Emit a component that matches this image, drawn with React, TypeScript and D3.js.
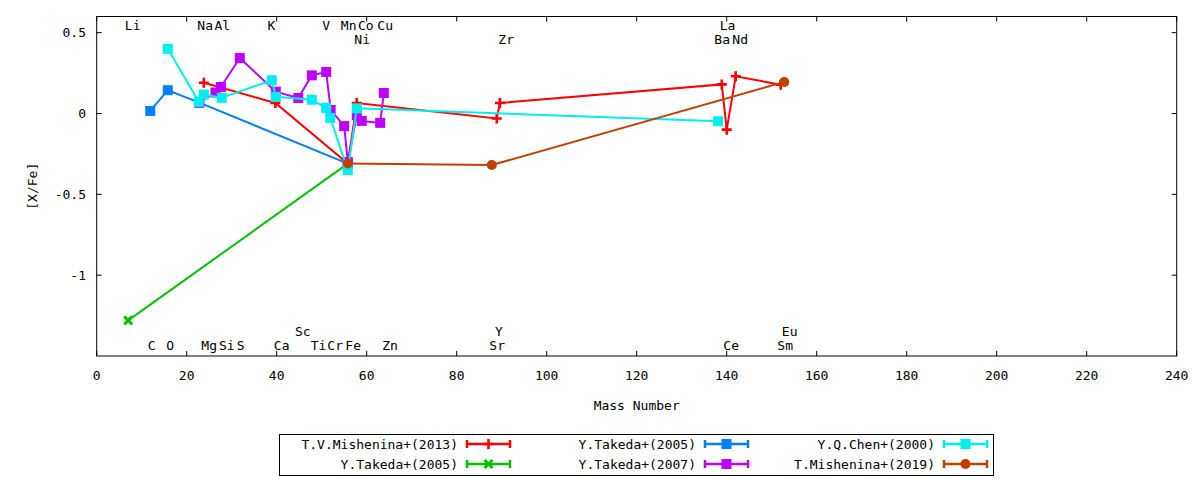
import { useEffect } from 'react';
import * as d3 from 'd3';

// [mass number, [X/Fe]]
type Pt = [number, number];

const mishenina2013: Pt[] = [
  [23.8, 0.19], [39.7, 0.065], [55.8, -0.31], [57.8, 0.065], [88.9, -0.031],
  [89.6, 0.065], [138.9, 0.18], [140, -0.1], [142, 0.23], [152, 0.178],
];
const takeda2005a: Pt[] = [[11.9, 0.016], [15.8, 0.144], [22.8, 0.067], [55.8, -0.31]];
const takeda2005b: Pt[] = [[7, -1.28], [55.8, -0.31]];
const takeda2007: Pt[] = [
  [22.8, 0.068], [26.4, 0.13], [27.6, 0.164], [31.8, 0.343], [39.8, 0.135],
  [44.8, 0.096], [47.8, 0.236], [51, 0.257], [52, 0.022], [55, -0.078],
  [55.8, -0.3], [57.8, -0.01], [58.9, -0.046], [63, -0.058], [63.8, 0.127],
];
const chen2000: Pt[] = [
  [15.8, 0.4], [22.7, 0.072], [23.8, 0.117], [27.8, 0.097], [38.9, 0.206],
  [39.8, 0.103], [47.8, 0.085], [51, 0.035], [51.9, -0.027], [55.8, -0.35],
  [57.8, 0.032], [138.1, -0.048],
];
const mishenina2019: Pt[] = [[55.8, -0.309], [87.8, -0.319], [152.8, 0.195]];

// element names along top and bottom of the frame, at their mass number
const topRow1: [string, number][] = [
  ['Li', 8], ['Na', 24.1], ['Al', 27.9], ['K', 38.8], ['V', 51], ['Mn', 56],
  ['Co', 59.8], ['Cu', 64.1], ['La', 140.2],
];
const topRow2: [string, number][] = [['Ni', 59], ['Zr', 91], ['Ba', 139], ['Nd', 143]];
const bottomRow1: [string, number][] = [['Sc', 45.8], ['Y', 89.4], ['Eu', 154]];
const bottomRow2: [string, number][] = [
  ['C', 12.2], ['O', 16.3], ['Mg', 25], ['Si', 28.9], ['S', 32], ['Ca', 41.1],
  ['Ti', 49.3], ['Cr', 53], ['Fe', 57], ['Zn', 65.2], ['Sr', 89], ['Ce', 141], ['Sm', 153],
];

const xTicks = d3.range(0, 241, 20);
const yTicks = [-1, -0.5, 0, 0.5];

type Marker = 'plus' | 'cross' | 'square' | 'circle';
const series: { name: string; color: string; marker: Marker; data: Pt[] }[] = [
  { name: 'T.V.Mishenina+(2013)', color: '#ff0000', marker: 'plus', data: mishenina2013 },
  { name: 'Y.Takeda+(2005)', color: '#00c000', marker: 'cross', data: takeda2005b },
  { name: 'Y.Takeda+(2005)', color: '#0080ff', marker: 'square', data: takeda2005a },
  { name: 'Y.Takeda+(2007)', color: '#c000ff', marker: 'square', data: takeda2007 },
  { name: 'Y.Q.Chen+(2000)', color: '#00eeee', marker: 'square', data: chen2000 },
  { name: 'T.Mishenina+(2019)', color: '#c04000', marker: 'circle', data: mishenina2019 },
];

const W = 1200;
const H = 480;
const L = 96.7, R = 1176.7, T = 16.5, B = 356;
const font = "'DejaVu Sans Mono', monospace";

const x = d3.scaleLinear().domain([0, 240]).range([L, R]);
const y = d3.scaleLinear().domain([-1.5, 0.6]).range([B, T]);

function Mark({ kind, cx, cy, color }: { kind: Marker; cx: number; cy: number; color: string }) {
  const s = 5;
  if (kind === 'square')
    return <rect x={cx - s} y={cy - s} width={2 * s} height={2 * s} fill={color} />;
  if (kind === 'circle') return <circle cx={cx} cy={cy} r={s} fill={color} />;
  if (kind === 'plus')
    return (
      <path d={`M${cx - s},${cy}H${cx + s}M${cx},${cy - s}V${cy + s}`} stroke={color} strokeWidth={2.6} />
    );
  return (
    <path
      d={`M${cx - 4},${cy - 4}L${cx + 4},${cy + 4}M${cx - 4},${cy + 4}L${cx + 4},${cy - 4}`}
      stroke={color}
      strokeWidth={3}
    />
  );
}

export default function App() {
  useEffect(() => {
    document.body.style.margin = '0';
  }, []);

  const line = d3.line<Pt>().x(d => x(d[0])).y(d => y(d[1]));

  // legend: 3 columns x 2 rows, filled column by column
  const colEnds = [458, 696, 935];
  const rowY = [444, 464];

  const labelRow = (items: [string, number][], yy: number) =>
    items.map(([n, m]) => (
      <text key={n + yy} x={x(m)} y={yy} textAnchor="middle" dominantBaseline="central">
        {n}
      </text>
    ));

  return (
    <svg width={W} height={H} style={{ display: 'block', background: '#fff' }} fontFamily={font} fontSize={13}>
      <g clipPath="url(#plot)">
        <clipPath id="plot">
          <rect x={L} y={T} width={R - L} height={B - T} />
        </clipPath>
        {series.map((s, i) => (
          <g key={i}>
            <path d={line(s.data) ?? ''} fill="none" stroke={s.color} strokeWidth={2} />
            {s.data.map((d, j) => (
              <Mark key={j} kind={s.marker} cx={x(d[0])} cy={y(d[1])} color={s.color} />
            ))}
          </g>
        ))}
      </g>

      <g fill="#000">
        {labelRow(topRow1, 25)}
        {labelRow(topRow2, 39)}
        {labelRow(bottomRow1, 331)}
        {labelRow(bottomRow2, 345)}
      </g>

      <rect x={L} y={T} width={R - L} height={B - T} fill="none" stroke="#000" strokeWidth={1} />
      {xTicks.map(t => (
        <g key={'x' + t}>
          <line x1={x(t)} x2={x(t)} y1={B} y2={B - 5} stroke="#000" />
          <line x1={x(t)} x2={x(t)} y1={T} y2={T + 5} stroke="#000" />
          <text x={x(t)} y={375} textAnchor="middle" dominantBaseline="central">
            {t}
          </text>
        </g>
      ))}
      {yTicks.map(t => (
        <g key={'y' + t}>
          <line x1={L} x2={L + 5} y1={y(t)} y2={y(t)} stroke="#000" />
          <line x1={R} x2={R - 5} y1={y(t)} y2={y(t)} stroke="#000" />
          <text x={86} y={y(t)} textAnchor="end" dominantBaseline="central">
            {t}
          </text>
        </g>
      ))}

      <text x={(L + R) / 2} y={405} textAnchor="middle" dominantBaseline="central">
        Mass Number
      </text>
      <text
        transform={`translate(32,${(T + B) / 2}) rotate(-90)`}
        textAnchor="middle"
        dominantBaseline="central"
      >
        [X/Fe]
      </text>

      <rect x={279.5} y={434.5} width={714} height={41} fill="none" stroke="#000" strokeWidth={1} />
      {series.map((s, i) => {
        const col = Math.floor(i / 2);
        const row = i % 2;
        const tx = colEnds[col];
        const yy = rowY[row];
        const x1 = tx + 9;
        const x2 = x1 + 43;
        return (
          <g key={'leg' + i}>
            <text x={tx} y={yy} textAnchor="end" dominantBaseline="central">
              {s.name}
            </text>
            <path
              d={`M${x1},${yy}H${x2}M${x1},${yy - 4}V${yy + 4}M${x2},${yy - 4}V${yy + 4}`}
              stroke={s.color}
              strokeWidth={2.5}
            />
            <Mark kind={s.marker} cx={(x1 + x2) / 2} cy={yy} color={s.color} />
          </g>
        );
      })}
    </svg>
  );
}
